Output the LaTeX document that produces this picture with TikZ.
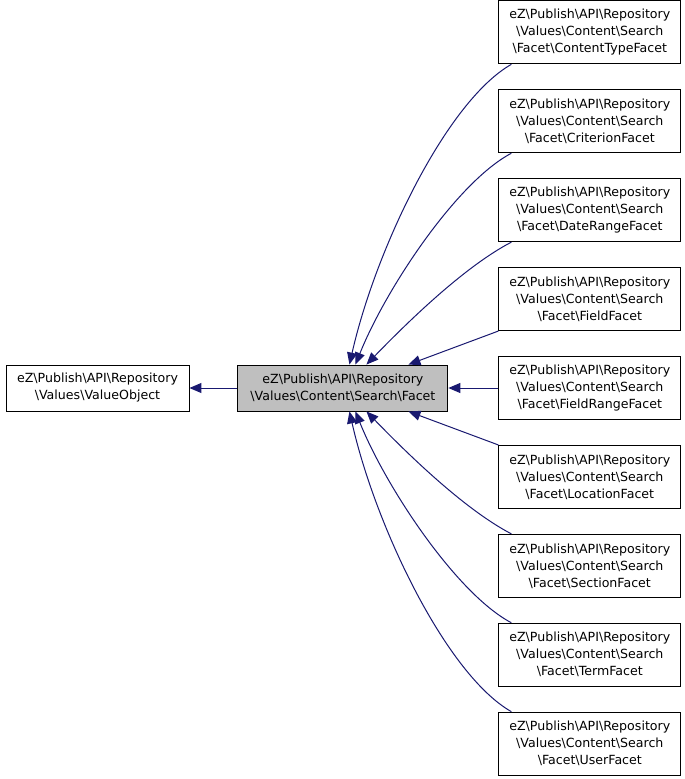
\documentclass[tikz,border=0pt]{standalone}
\usepackage{fontspec}
\setmainfont{DejaVu Sans}
\usetikzlibrary{arrows.meta,positioning}
\definecolor{edgeblue}{HTML}{191970}
\definecolor{facetgray}{HTML}{BFBFBF}
\newcommand{\bs}{\textbackslash}
\newcommand{\facetname}[1]{eZ\bs Publish\bs API\bs Repository\\\bs Values\bs Content\bs Search\\\bs Facet\bs #1}

\begin{document}
\begin{tikzpicture}[x=1pt, y=1pt,
      cls/.style={draw, line width=0.9pt, minimum width=183pt,
                  minimum height=46pt, inner sep=2pt,
                  font=\fontsize{12.6}{17}\selectfont, align=center},
      sub/.style={cls, minimum width=182pt, minimum height=63pt},
      cur/.style={cls, fill=facetgray, minimum width=210pt},
      arr/.style={-{Triangle[length=12pt,width=10pt]}, line width=1pt, color=edgeblue},
      node distance=25pt
  ]
    \useasboundingbox (0,0) rectangle (685,-779);
    \node[cls] (vo) at (97.5,-388) {eZ\bs Publish\bs API\bs Repository\\\bs Values\bs ValueObject};
    \node[cur, right=48pt of vo] (facet) {eZ\bs Publish\bs API\bs Repository\\\bs Values\bs Content\bs Search\bs Facet};
    \node[sub, right=50pt of facet] (frf) {\facetname{FieldRangeFacet}};
    \node[sub, above=of frf] (fi) {\facetname{FieldFacet}};
    \node[sub, above=of fi]  (dr) {\facetname{DateRangeFacet}};
    \node[sub, above=of dr]  (cr) {\facetname{CriterionFacet}};
    \node[sub, above=of cr]  (ct) {\facetname{ContentTypeFacet}};
    \node[sub, below=of frf] (lo) {\facetname{LocationFacet}};
    \node[sub, below=of lo]  (se) {\facetname{SectionFacet}};
    \node[sub, below=of se]  (te) {\facetname{TermFacet}};
    \node[sub, below=of te]  (us) {\facetname{UserFacet}};
    % inheritance edges
    \draw[arr] (facet) -- (vo);
    \draw[arr] ([xshift=13pt]ct.south west) .. controls +(-65,-37) and +(26,115) .. ([xshift=112pt]facet.north west);
    \draw[arr] ([xshift=13pt]cr.south west) .. controls +(-55,-29) and +(30,75) .. ([xshift=118pt]facet.north west);
    \draw[arr] ([xshift=13pt]dr.south west) .. controls +(-50,-26) and +(34,35) .. ([xshift=129pt]facet.north west);
    \draw[arr] (fi.south west) -- ([xshift=171pt]facet.north west);
    \draw[arr] (frf) -- (facet);
    \draw[arr] (lo.north west) -- ([xshift=171pt]facet.south west);
    \draw[arr] ([xshift=13pt]se.north west) .. controls +(-50,26) and +(34,-35) .. ([xshift=129pt]facet.south west);
    \draw[arr] ([xshift=13pt]te.north west) .. controls +(-55,29) and +(30,-75) .. ([xshift=118pt]facet.south west);
    \draw[arr] ([xshift=13pt]us.north west) .. controls +(-65,37) and +(26,-115) .. ([xshift=112pt]facet.south west);
  \end{tikzpicture}
\end{document}
